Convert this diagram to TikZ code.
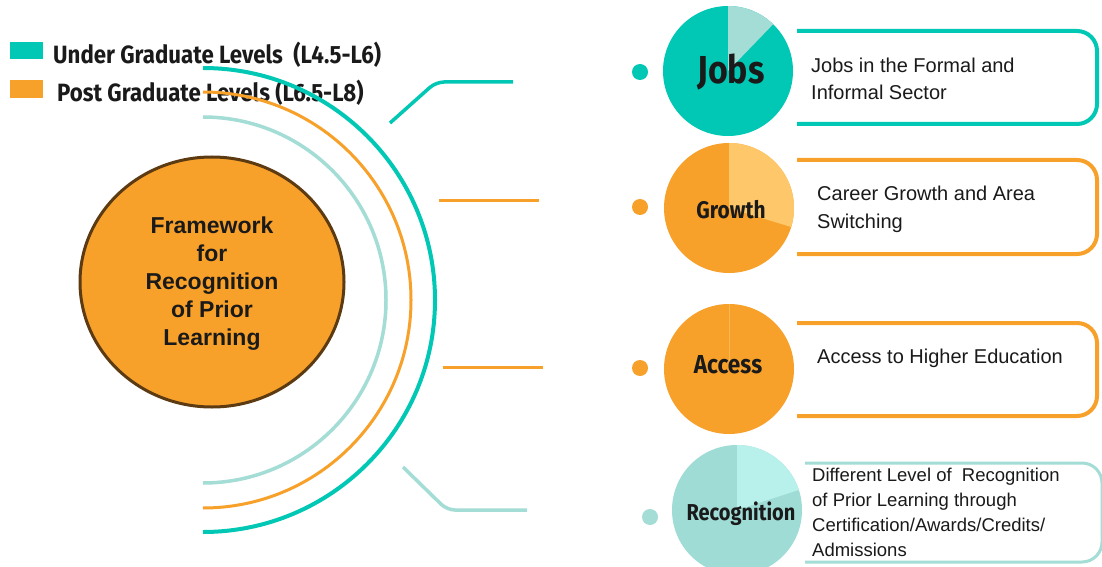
\documentclass[tikz,border=0pt]{standalone}
\usepackage{fontspec}
\setmainfont{Liberation Sans}
\newfontfamily\condf[FakeStretch=0.89]{Fira Sans}
\newfontfamily\condp[FakeStretch=0.87]{Fira Sans}
\usetikzlibrary{shapes.geometric}
\definecolor{tealc}{HTML}{00C8B4}
\definecolor{tealL}{HTML}{A3DDD6}
\definecolor{orc}{HTML}{F8A12A}
\definecolor{orL}{HTML}{FEC86A}
\definecolor{recc}{HTML}{9FDCD6}
\definecolor{recL}{HTML}{B8F1EB}
\definecolor{brownc}{HTML}{5C3A12}
\definecolor{txt}{HTML}{1A1A1A}
\begin{document}
\begin{tikzpicture}[x=1pt,y=1pt,
  legtext/.style={anchor=base west, inner sep=0pt, text=txt, font=\condf\bfseries\fontsize{25}{30}\selectfont},
  pielabel/.style={anchor=base, inner sep=0pt, text=txt, font=\condp\bfseries\fontsize{#1}{#1}\selectfont},
  boxtext/.style={anchor=west, inner sep=0pt, align=left, text=txt, font=\fontsize{20}{#1}\selectfont},
  dotnode/.style={circle, fill=#1, inner sep=0pt, minimum size=16pt},
  openbox/.style={draw=#1, line width=4pt, rounded corners=20pt},
  link/.style={draw=#1, line width=3.5pt, rounded corners=8pt},
]
\useasboundingbox (0,0) rectangle (1102,566);
\fill[white] (0,0) rectangle (1102,566);

% legend
\fill[tealc] (10,507) rectangle (43,524);
\fill[orc] (10,468) rectangle (43,486);
\node[legtext] (lg1) at (53,502) {Under Graduate Levels\ \ (L4.5-L6)};
\node[legtext] (lg2) at (57,464) {Post Graduate Levels (L6.5-L8)};

% central framework circle
\node[ellipse, draw=brownc, line width=3pt, fill=orc, minimum width=264pt, minimum height=250pt] (fw) at (212,284) {};
\node[align=center, inner sep=0pt, text=txt, font=\bfseries\fontsize{23}{28}\selectfont] (fwt) at (212,282)
      {Framework\\for\\Recognition\\of Prior\\Learning};

% arcs
\draw[tealc, line width=4pt] (203,498) arc[start angle=90, end angle=-90, radius=232];
\draw[orc, line width=3pt] (203,474) arc[start angle=90, end angle=-90, radius=208];
\draw[tealL, line width=3.5pt] (203,449) arc[start angle=90, end angle=-90, radius=183];

% link lines
\coordinate (l1a) at (390,443); \coordinate (l1b) at (436,484); \coordinate (l1c) at (513,484);
\coordinate (l2a) at (439,366); \coordinate (l2b) at (539,366);
\coordinate (l3a) at (443,199); \coordinate (l3b) at (543,199);
\coordinate (l4a) at (403,99); \coordinate (l4b) at (447,56); \coordinate (l4c) at (527,56);
\draw[link=tealc] (l1a) -- (l1b) -- (l1c);
\draw[link=orc, line width=3pt] (l2a) -- (l2b);
\draw[link=orc, line width=3pt] (l3a) -- (l3b);
\draw[link=tealL] (l4a) -- (l4b) -- (l4c);

% dots
\node[dotnode=tealc] (d1) at (640,494) {};
\node[dotnode=orc] (d2) at (640,359) {};
\node[dotnode=orc] (d3) at (640,198) {};
\node[dotnode=tealL] (d4) at (650,49) {};

% pies
\fill[tealc] (728,495) circle[radius=65];
\fill[tealL] (728,495) -- ++(46:65) arc[start angle=46, end angle=90, radius=65] -- cycle;
\fill[orc] (729,358) circle[radius=65];
\fill[orL] (729,358) -- ++(-17:65) arc[start angle=-17, end angle=90, radius=65] -- cycle;
\fill[orc] (729,197) circle[radius=65];
\draw[orL!60!orc, line width=0.6pt] (729,197) -- (729,262);
\fill[recc] (737,56) circle[radius=65];
\fill[recL] (737,56) -- ++(18:65) arc[start angle=18, end angle=90, radius=65] -- cycle;

\node[pielabel=39] (pj) at (731,482) {Jobs};
\node[pielabel=24] (pg) at (731,348) {Growth};
\node[pielabel=26] (pa) at (728,193) {Access};
\node[pielabel=23] (pr) at (741,46) {Recognition};

% open boxes
\draw[openbox=tealc] (797,535) -- (1097,535) -- (1097,442) -- (797,442);
\draw[openbox=orc] (797,406) -- (1097,406) -- (1097,312) -- (797,312);
\draw[openbox=orc] (797,243) -- (1097,243) -- (1097,150) -- (797,150);
\draw[openbox=tealL, line width=3pt] (805,103) -- (1102,103) -- (1102,4) -- (805,4);

% box texts
\node[boxtext=27] (t1) at (811,487) {Jobs in the Formal and\\Informal Sector};
\node[boxtext=28] (t2) at (817,357) {Career Growth and Area\\Switching};
\node[boxtext=28] (t3) at (817,208) {Access to Higher Education};
\node[boxtext=25, font=\fontsize{18.5}{25}\selectfont] (t4) at (812,54) {Different Level of\ \ Recognition\\of Prior Learning through\\Certification/Awards/Credits/\\Admissions};
\end{tikzpicture}
\end{document}
